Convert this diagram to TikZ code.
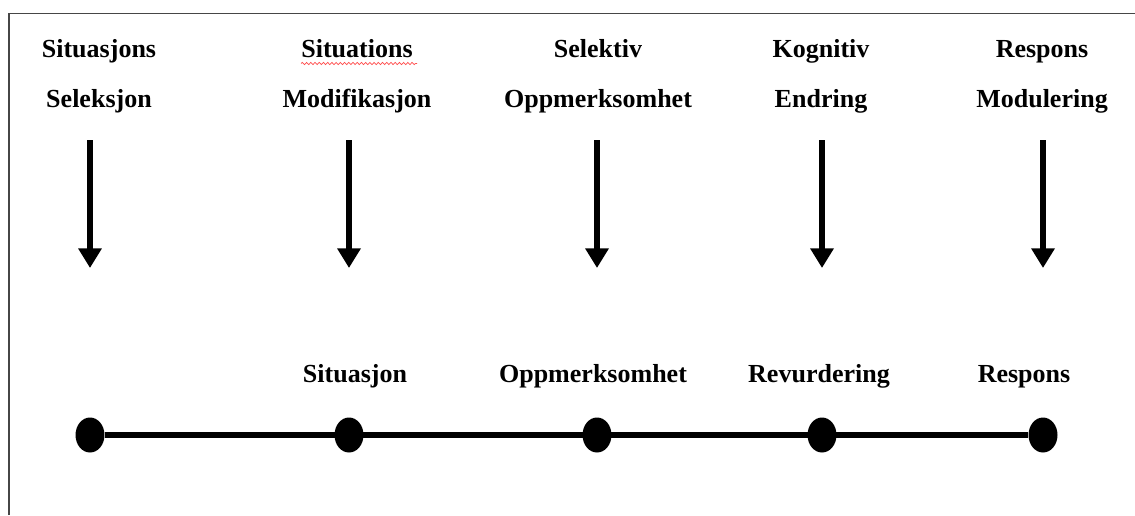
\documentclass[tikz,border=0pt]{standalone}
\usepackage{fontspec}
\setmainfont{Liberation Serif}
\usetikzlibrary{arrows.meta,shapes.geometric,decorations.pathmorphing}

\tikzset{
  lbl/.style={anchor=base,inner sep=0pt,font=\fontsize{18.5}{22}\selectfont\bfseries},
  dot/.style={ellipse,fill=black,inner sep=0pt,minimum width=20.6pt,minimum height=24.9pt},
  down/.style={line width=3.6pt,-{Triangle[length=14pt,width=16pt]}},
}

\begin{document}
\begin{tikzpicture}[x=0.025cm,y=-0.025cm]
\useasboundingbox (0,0) rectangle (1135,515);
% frame (only top and left side are in view)
\draw[gray!55!black,line width=1pt](9,515)--(9,13.5)--(1135,13.5);
% top labels
\foreach\n/\x/\lineA/\lineB in {1/99/Situasjons/Seleksjon,2/357/Situations/Modifikasjon,3/598/Selektiv/Oppmerksomhet,4/821/Kognitiv/Endring,5/1042/Respons/Modulering}{
    \node[lbl] (ta\n) at (\x,57) {\lineA};
    \node[lbl] (tb\n) at (\x,107) {\lineB};
}
\draw[red!70,line width=0.5pt,decorate,decoration={snake,amplitude=0.8pt,segment length=3pt}](ta2.base west)++(0,6.5)--++(116,0);
% arrows and dots
\foreach\n/\x in {1/90,2/349,3/597,4/822,5/1043}{
    \coordinate (as\n) at (\x,140);
    \coordinate (ae\n) at (\x,268);
    \draw[down] (as\n)--(ae\n);
    \node[dot] (d\n) at (\x,435) {};
}
\draw[line width=4pt] (d1)--(d5);
% bottom labels
\foreach\n/\x/\txt in {2/355/Situasjon,3/593/Oppmerksomhet,4/819/Revurdering,5/1024/Respons}{
    \node[lbl] (b\n) at (\x,382) {\txt};
}
\end{tikzpicture}
\end{document}
